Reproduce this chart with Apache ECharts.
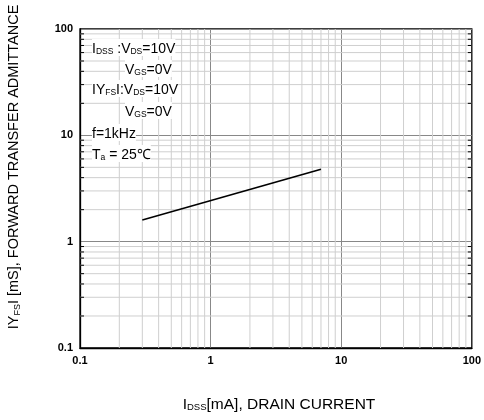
<!DOCTYPE html>
<html><head><meta charset="utf-8">
<script src="https://cdn.jsdelivr.net/npm/echarts@6/dist/echarts.min.js"></script>
<style>html,body{margin:0;padding:0;background:#fff}#c{width:484px;height:420px}</style>
</head><body><div id="c"></div>
<script>
// Data
const idss = [0.3, 7];          // I_DSS [mA]
const yfs = [1.6, 4.8];         // |Y_FS| [mS]
const xTickLabels = ['0.1', '1', '10', '100'];
const yTickLabels = ['0.1', '1', '10', '100'];
const minorSteps = [2, 3, 4, 5, 6, 7, 8, 9];
const xDecades = [0.1, 1, 10];
const yDecades = [0.1, 1, 10];

const xMinor = [];
xDecades.forEach(d => minorSteps.forEach(s => xMinor.push(+(d * s).toPrecision(3))));
const yMinor = [];
yDecades.forEach(d => minorSteps.forEach(s => yMinor.push(+(d * s).toPrecision(3))));

const gridItems = xMinor.map(v => ['x', v]).concat(yMinor.map(v => ['y', v]));

const FONT = 'Liberation Sans, Arial, sans-serif';
function mkRich(big, small) {
  return {
    n: { fontSize: big, fontFamily: FONT, color: '#000', verticalAlign: 'bottom', lineHeight: big + 3 },
    s: { fontSize: small, fontFamily: FONT, color: '#000', verticalAlign: 'bottom', lineHeight: big + 1 }
  };
}
const rich = mkRich(14, 8.5);

const chart = echarts.init(document.getElementById('c'));
chart.setOption({
  animation: false,
  grid: { left: 80, top: 29, right: 11, bottom: 72, show: true, borderColor: '#000', borderWidth: 1.3, backgroundColor: 'transparent' },
  xAxis: {
    type: 'log', logBase: 10, min: 0.1, max: 100,
    axisLine: { lineStyle: { color: '#000', width: 1.3 } },
    axisTick: { show: false },
    axisLabel: { color: '#000', fontWeight: 'bold', fontSize: 11, fontFamily: FONT, margin: 7,
      formatter: v => xTickLabels.find(t => Math.abs(parseFloat(t) - v) / v < 1e-6) || '' },
    splitLine: { show: true, lineStyle: { color: '#888', width: 1 } }
  },
  yAxis: {
    type: 'log', logBase: 10, min: 0.1, max: 100,
    axisLine: { lineStyle: { color: '#000', width: 1.3 } },
    axisTick: { show: false },
    axisLabel: { color: '#000', fontWeight: 'bold', fontSize: 11, fontFamily: FONT, margin: 7,
      formatter: v => yTickLabels.find(t => Math.abs(parseFloat(t) - v) / v < 1e-6) || '' },
    splitLine: { show: true, lineStyle: { color: '#888', width: 1 } }
  },
  series: [
    {
      type: 'custom', silent: true, z: 1,
      data: gridItems.map((g, i) => [i, 1]),
      renderItem: function (params, api) {
        const g = gridItems[params.dataIndex];
        const children = [];
        if (g[0] === 'x') {
          const p1 = api.coord([g[1], 0.1]), p2 = api.coord([g[1], 100]);
          children.push({ type: 'line', shape: { x1: p1[0], y1: p1[1], x2: p2[0], y2: p2[1] }, style: { stroke: '#cfcfcf', lineWidth: 1 } });
        } else {
          const p1 = api.coord([0.1, g[1]]), p2 = api.coord([100, g[1]]);
          children.push({ type: 'line', shape: { x1: p1[0], y1: p1[1], x2: p2[0], y2: p2[1] }, style: { stroke: '#cfcfcf', lineWidth: 1 } });
          children.push({ type: 'line', shape: { x1: p1[0], y1: p1[1], x2: p1[0] + 4, y2: p1[1] }, style: { stroke: '#000', lineWidth: 1 } });
          children.push({ type: 'line', shape: { x1: p2[0], y1: p2[1], x2: p2[0] - 4, y2: p2[1] }, style: { stroke: '#000', lineWidth: 1 } });
        }
        return { type: 'group', children };
      }
    },
    {
      type: 'line', z: 5, symbol: 'none',
      data: idss.map((x, i) => [x, yfs[i]]),
      lineStyle: { color: '#000', width: 1.6 }
    }
  ],
  graphic: [
    { type: 'text', left: 92, top: 39, z: 10, style: { text: '{n|I}{s|DSS}{n| :V}{s|DS}{n|=10V}', rich, backgroundColor: '#fff' } },
    { type: 'text', left: 125, top: 60, z: 10, style: { text: '{n|V}{s|GS}{n|=0V}', rich, backgroundColor: '#fff' } },
    { type: 'text', left: 92, top: 80, z: 10, style: { text: '{n|IY}{s|FS}{n|I:V}{s|DS}{n|=10V}', rich, backgroundColor: '#fff' } },
    { type: 'text', left: 125, top: 102, z: 10, style: { text: '{n|V}{s|GS}{n|=0V}', rich, backgroundColor: '#fff' } },
    { type: 'text', left: 92, top: 124, z: 10, style: { text: '{n|f=1kHz}', rich, backgroundColor: '#fff' } },
    { type: 'text', left: 92, top: 145, z: 10, style: { text: '{n|T}{s|a}{n| = 25℃}', rich, backgroundColor: '#fff' } },
    { type: 'text', x: 13, y: 167, rotation: Math.PI / 2, z: 10,
      style: { text: '{n|IY}{s|FS}{n|I [mS], FORWARD TRANSFER ADMITTANCE}', rich: mkRich(14.5, 9),
        align: 'center', verticalAlign: 'middle' } },
    { type: 'text', x: 279, y: 403, z: 10,
      style: { text: '{n|I}{s|DSS}{n|[mA], DRAIN CURRENT}', rich: mkRich(15.5, 9.5),
        align: 'center', verticalAlign: 'middle' } }
  ]
});
</script></body></html>
